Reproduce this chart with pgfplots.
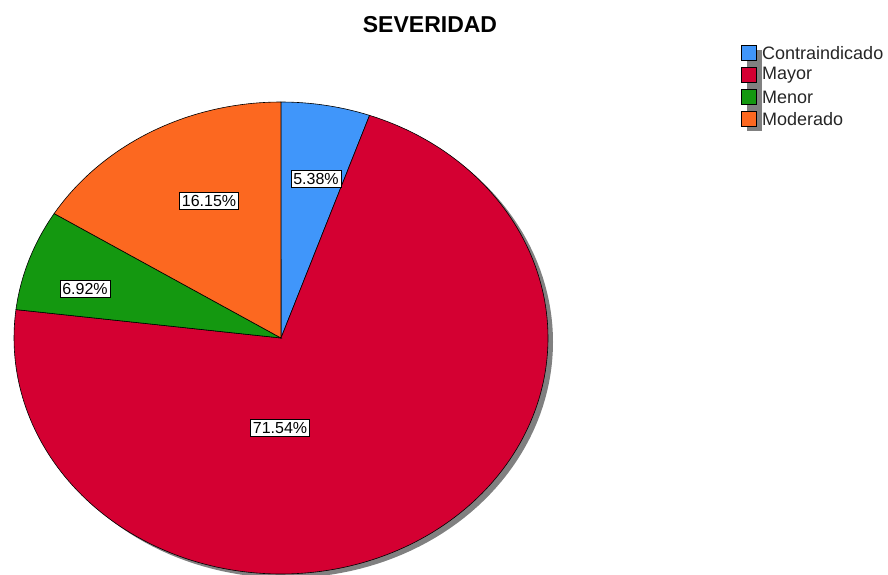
\documentclass[border=0pt]{standalone}
\usepackage{fontspec}
\setmainfont{Liberation Sans}
\usepackage{pgfplots}
\usepackage{pgfplotstable}
\pgfplotsset{compat=1.18}
\definecolor{cBlue}{RGB}{64,150,250}
\definecolor{cRed}{RGB}{212,0,50}
\definecolor{cGreen}{RGB}{20,152,16}
\definecolor{cOrange}{RGB}{252,104,32}
\definecolor{cShadow}{RGB}{128,128,128}
\pgfplotstableread{
cat pct
Contraindicado 5.38
Mayor 71.54
Menor 6.92
Moderado 16.15
}\piedata
\pgfplotstablegetelem{0}{pct}\of\piedata \let\pA\pgfplotsretval
\pgfplotstablegetelem{1}{pct}\of\piedata \let\pB\pgfplotsretval
\pgfplotstablegetelem{2}{pct}\of\piedata \let\pC\pgfplotsretval
\pgfplotstablegetelem{3}{pct}\of\piedata \let\pD\pgfplotsretval
\pgfmathsetmacro{\aS}{90}
\pgfmathsetmacro{\aA}{90-3.6*\pA}
\pgfmathsetmacro{\aB}{\aA-3.6*\pB}
\pgfmathsetmacro{\aC}{\aB-3.6*\pC}
\pgfmathsetmacro{\aD}{\aC-3.6*\pD}
\def\cx{281}\def\cy{338}\def\rx{267}\def\ry{236}
\begin{document}
\begin{tikzpicture}
\useasboundingbox (0,0) rectangle (888pt,575pt);
\begin{axis}[at={(0,0)}, anchor=south west, scale only axis,
  width=888pt, height=575pt, xmin=0, xmax=888, ymin=0, ymax=575,
  y dir=reverse, hide axis, clip=true]
% shadow
\addplot[fill=cShadow, draw=none, domain=0:360, samples=181, variable=\t]
  ({\cx+5+\rx*cos(\t)},{\cy+4-\ry*sin(\t)}) -- cycle;
% slices
\addplot[fill=cBlue, draw=black, line width=0.6pt, domain=\aA:\aS, samples=30, variable=\t]
  ({\cx+\rx*cos(\t)},{\cy-\ry*sin(\t)}) -- (axis cs:\cx,\cy) -- cycle;
\addplot[fill=cRed, draw=black, line width=0.6pt, domain=\aB:\aA, samples=181, variable=\t]
  ({\cx+\rx*cos(\t)},{\cy-\ry*sin(\t)}) -- (axis cs:\cx,\cy) -- cycle;
\addplot[fill=cGreen, draw=black, line width=0.6pt, domain=\aC:\aB, samples=30, variable=\t]
  ({\cx+\rx*cos(\t)},{\cy-\ry*sin(\t)}) -- (axis cs:\cx,\cy) -- cycle;
\addplot[fill=cOrange, draw=black, line width=0.6pt, domain=\aD:\aC, samples=50, variable=\t]
  ({\cx+\rx*cos(\t)},{\cy-\ry*sin(\t)}) -- (axis cs:\cx,\cy) -- cycle;
% labels
\tikzset{lbl/.style={draw=black, fill=white, line width=0.6pt, inner xsep=2.5pt, inner ysep=3pt, font=\fontsize{16}{18}\selectfont}}
\node[lbl] at (axis cs:316,179) {5.38\%};
\node[lbl] at (axis cs:209,201) {16.15\%};
\node[lbl] at (axis cs:85,289) {6.92\%};
\node[lbl] at (axis cs:280,428) {71.54\%};
% title
\node[font=\bfseries\fontsize{23}{26}\selectfont] at (axis cs:430,25) {SEVERIDAD};
% legend
\fill[cShadow] (axis cs:747,50) rectangle (axis cs:762,131);
\draw[fill=cBlue, line width=0.6pt] (axis cs:741,45) rectangle (axis cs:756,60);
\draw[fill=cRed, line width=0.6pt] (axis cs:741,67) rectangle (axis cs:756,82);
\draw[fill=cGreen, line width=0.6pt] (axis cs:741,89) rectangle (axis cs:756,104);
\draw[fill=cOrange, line width=0.6pt] (axis cs:741,111) rectangle (axis cs:756,126);
\tikzset{leg/.style={anchor=west, inner sep=0pt, font=\fontsize{18}{20}\selectfont, text=black!85}}
\node[leg] at (axis cs:762,53) {Contraindicado};
\node[leg] at (axis cs:762,75) {Mayor};
\node[leg] at (axis cs:762,97) {Menor};
\node[leg] at (axis cs:762,119) {Moderado};
\end{axis}
\end{tikzpicture}
\end{document}
